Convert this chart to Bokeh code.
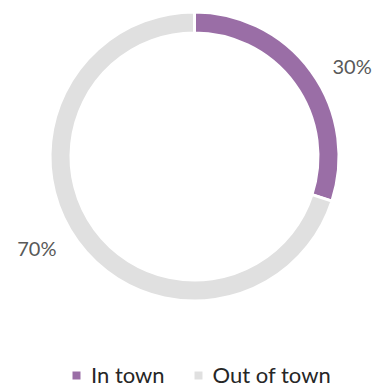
import math
from bokeh.plotting import figure
from bokeh.models import Range1d, Legend, LegendItem
from bokeh.core.properties import value
from bokeh.embed import file_html
from bokeh.resources import INLINE

categories = ["In town", "Out of town"]
shares = [30, 70]
labels = ["30%", "70%"]
colors = ["#9a6ea6", "#e0e0e0"]

W, H = 376, 389
CX, CY = 194, H - 156
R_IN, R_OUT = 123.5, 144.5
LABEL_R = 182
LABEL_SHIFT = 6  # degrees

p = figure(width=W, height=H, output_backend="svg", toolbar_location=None,
           x_range=Range1d(0, W), y_range=Range1d(0, H), min_border=0)
p.axis.visible = False
p.grid.visible = False
p.outline_line_color = None
p.background_fill_color = "white"
p.border_fill_color = "white"

total = float(sum(shares))
cum = 0.0
legend_items = []
for cat, s, lab, col in zip(categories, shares, labels, colors):
    a0 = cum / total * 360.0
    a1 = (cum + s) / total * 360.0
    cum += s
    p.annular_wedge(x=CX, y=CY, inner_radius=R_IN, outer_radius=R_OUT,
                    start_angle=math.radians(90 - a0), end_angle=math.radians(90 - a1),
                    direction="clock", fill_color=col, line_color="white", line_width=3)
    mid = (a0 + a1) / 2 + LABEL_SHIFT
    lx = CX + LABEL_R * math.sin(math.radians(mid))
    ly = CY + LABEL_R * math.cos(math.radians(mid))
    p.text(x=[lx], y=[ly], text=[lab], text_align="center", text_baseline="middle",
           text_font=value("Lato"), text_font_size="20px", text_color="#595959")
    # off-canvas swatch used only for the legend
    dummy = p.quad(left=[-50], right=[-40], top=[-40], bottom=[-50], fill_color=col, line_color=None)
    legend_items.append(LegendItem(label=cat, renderers=[dummy]))

legend = Legend(items=legend_items, orientation="horizontal", location=(71, 1),
                glyph_width=10, glyph_height=10, label_standoff=10, spacing=28,
                padding=0, margin=0, border_line_color=None, background_fill_alpha=0,
                label_text_font="Lato", label_text_font_size="22px", label_text_color="#262626")
p.add_layout(legend)

open("out.html", "w").write(file_html(p, INLINE))
